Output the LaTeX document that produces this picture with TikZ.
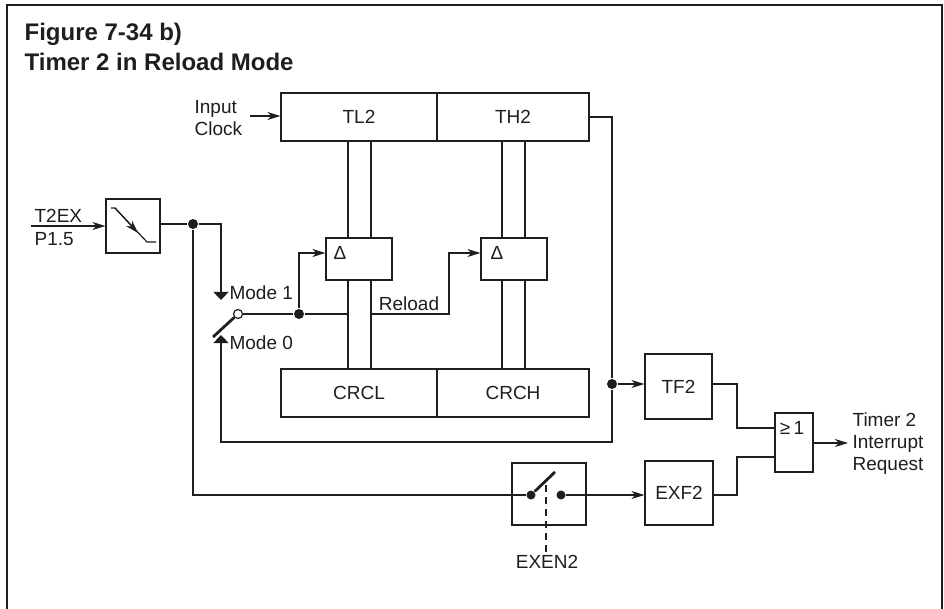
\documentclass[tikz,border=0pt]{standalone}
\usepackage{fontspec}
\setmainfont{Liberation Sans}
\usetikzlibrary{arrows.meta, calc}
\definecolor{ink}{RGB}{30, 30, 30}

\begin{document}
\begin{tikzpicture}[x=1pt, y=-1pt, color=ink, line width=1.2pt,
      font=\fontsize{19}{22}\selectfont, >={Stealth[length=13pt, width=8pt, inset=4pt]},
      block/.style={draw, inner sep=0pt, align=center},
      reg/.style={block, minimum height=48pt},
      lbl/.style={inner sep=0pt, align=left},
      dot/.style={circle, fill, inner sep=0pt, minimum size=10pt},
      contact/.style={circle, fill, inner sep=0pt, minimum size=9pt},
      ring/.style={circle, draw, fill=white, inner sep=0pt, minimum size=9pt},
      blade/.style={line width=2.8pt},
      modetip/.style={-{Triangle[length=8pt, width=15pt]}}]
    \useasboundingbox (0,0) rectangle (944,609);
    \draw[line width=1.4pt] (7,609) -- (7,5) -- (942,5) -- (942,609);
    \node[lbl, anchor=west, font=\fontsize{24}{30}\selectfont\bfseries] (title) at (24,47)
      {Figure 7-34 b)\\ Timer 2 in Reload Mode};

    % registers
    \node[reg, minimum width=156pt] (tl2)  at (359,117) {TL2};
    \node[reg, minimum width=152pt] (th2)  at (513,117) {TH2};
    \node[reg, minimum width=156pt] (crcl) at (359,393) {CRCL};
    \node[reg, minimum width=152pt] (crch) at (513,393) {CRCH};
    \node[block, minimum width=66pt, minimum height=42pt] (dl) at (359,259) {};
    \node[block, minimum width=66pt, minimum height=42pt] (dh) at (514,259) {};
    \node (dlsym) at (340,253) {Δ};
    \node (dhsym) at (497,253) {Δ};
    \node[block, minimum width=54pt, minimum height=54pt] (edge) at (133,226) {};
    \node[block, minimum width=67pt, minimum height=65pt] (tf2)  at (678.5,386.5) {TF2};
    \node[block, minimum width=68pt, minimum height=64pt] (exf2) at (679,493) {EXF2};
    \node[block, minimum width=74pt, minimum height=62pt] (gate) at (549,494) {};
    \node[block, minimum width=38pt, minimum height=59pt] (or)   at (794,442.5) {};
    \node (orsym) at (792,428) {≥\,1};

    % labels
    \node[lbl, anchor=west] (clk)  at (194,118) {Input\\ Clock};
    \node[lbl, anchor=west] (t2ex) at (34,216) {T2EX};
    \node[lbl, anchor=west] (p15)  at (34,239) {P1.5};
    \node[lbl, anchor=west] (m1)   at (229,293) {Mode 1};
    \node[lbl, anchor=west] (m0)   at (229,343) {Mode 0};
    \node[lbl] (reload) at (409,304) {Reload};
    \node[lbl] (exen)   at (547,562) {EXEN2};
    \node[lbl, anchor=west] (irq) at (852,444) {Timer 2\\ Interrupt\\ Request};

    % junctions and free ends
    \node[dot] (j1) at (193,224) {};
    \node[dot] (j2) at (299,314) {};
    \node[dot] (j3) at (612,384) {};
    \node[ring] (sw) at (238,314) {};
    \node[contact] (ga) at (531,495) {};
    \node[contact] (gb) at (561,495) {};
    \coordinate (clkin) at (250,116);
    \coordinate (t2in)  at (31,226);
    \coordinate (swl)   at (213,337);
    \coordinate (m1tip) at (221,300);
    \coordinate (m0tip) at (221,335);
    \coordinate (gtop)  at (555,472);
    \coordinate (irqo)  at (848,443);

    % buses
    \foreach \busx in {348,371} {
      \draw (tl2.south -| \busx,0) -- (dl.north -| \busx,0);
      \draw (dl.south -| \busx,0) -- (crcl.north -| \busx,0);
    }
    \foreach \busx in {502,525} {
      \draw (th2.south -| \busx,0) -- (dh.north -| \busx,0);
      \draw (dh.south -| \busx,0) -- (crch.north -| \busx,0);
    }

    % edge detector symbol
    \draw (111,208) -- (115,208) -- (147,242) -- (156,242);
    \draw[->] (115,208) -- (138,233);

    % connectors
    \draw[->] (clkin) -- (clkin -| tl2.west);
    \draw[->] (t2in) -- (t2in -| edge.west);
    \draw (edge.east |- j1) -- (j1);
    \draw[modetip] (j1) -| (m1tip);
    \draw[blade] (sw) -- (swl);
    \draw (sw) -- (j2);
    \draw (j2) -- (348,314);
    \draw[->] (j2) |- (dl.west |- 0,253);
    \draw[->] (371,314) -| (449,253) -- (dh.west |- 0,253);
    \draw (th2.east) -| (j3);
    \draw[modetip] (j3) |- (221,442) -- (m0tip);
    \draw[->] (j3) -- (j3 -| tf2.west);
    \draw (j1) |- (ga);
    \draw[blade] (ga) -- (gtop);
    \draw[->] (gb) -- (gb -| exf2.west);
    \draw[dashed, dash pattern=on 7pt off 5pt] (546,485) -- (exen.north -| 546,0);
    \draw (tf2.east |- j3) -| (737,428) -- (or.west |- 0,428);
    \draw (exf2.east |- gb) -| (737,457) -- (or.west |- 0,457);
    \draw[->] (or.east |- irqo) -- (irqo);
  \end{tikzpicture}
\end{document}
